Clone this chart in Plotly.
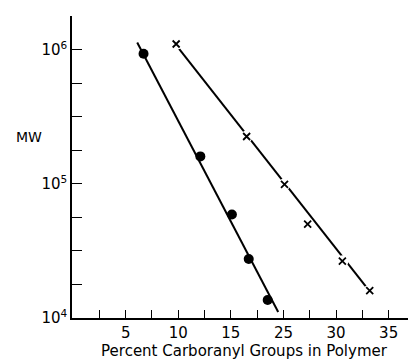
import plotly.graph_objects as go

# Data (x position on axis, MW)
circ_x = [6.7, 12.1, 15.1, 16.7, 18.5]
circ_y = [9.3e5, 1.6e5, 5.9e4, 2.75e4, 1.36e4]
circ_fit_x = [6.1, 19.5]
circ_fit_y = [1.13e6, 1.11e4]

cross_x = [9.8, 16.5, 20.1, 22.3, 25.6, 28.2]
cross_y = [1.1e6, 2.25e5, 9.9e4, 5.0e4, 2.65e4, 1.6e4]
cross_fit_x = [9.8, 28.2]
cross_fit_y = [1.08e6, 1.58e4]

x_tickvals = [2.5, 5, 7.5, 10, 12.5, 15, 17.5, 20, 22.5, 25, 27.5, 30, 32.5]
x_ticktext = ["", "5", "", "10", "", "15", "", "25", "", "30", "", "35", ""]

y_tickvals = [10 ** (k / 4) for k in range(16, 26)]
y_ticktext = ["10<sup>4</sup>", "", "", "", "10<sup>5</sup>", "", "", "", "10<sup>6</sup>", ""]

FONT = "DejaVu Sans"

fig = go.Figure()
fig.add_trace(go.Scatter(x=circ_fit_x, y=circ_fit_y, mode="lines",
                         line=dict(color="black", width=2), showlegend=False))
fig.add_trace(go.Scatter(x=circ_x, y=circ_y, mode="markers",
                         marker=dict(color="black", size=10, symbol="circle"), showlegend=False))
fig.add_trace(go.Scatter(x=cross_fit_x, y=cross_fit_y, mode="lines",
                         line=dict(color="black", width=2), showlegend=False))
fig.add_trace(go.Scatter(x=cross_x, y=cross_y, mode="markers",
                         marker=dict(color="white", size=12, symbol="circle"), showlegend=False))
fig.add_trace(go.Scatter(x=cross_x, y=cross_y, mode="markers",
                         marker=dict(color="black", size=7, symbol="x-thin",
                                     line=dict(color="black", width=1.8)), showlegend=False))

# The page body adds an 8px margin, so the figure is 8px smaller and offset.
fig.update_layout(
    width=408, height=354,
    margin=dict(l=64, r=0, t=8, b=44),
    paper_bgcolor="white", plot_bgcolor="white",
    font=dict(family=FONT, color="black", size=14),
    xaxis=dict(range=[-0.1, 32.6], showgrid=False, zeroline=False, automargin=False,
               showline=True, linecolor="black", linewidth=1.5,
               ticks="inside", ticklen=8, tickwidth=1.3, tickcolor="black",
               tickvals=x_tickvals, ticktext=x_ticktext,
               tickfont=dict(family=FONT, size=15),
               title=dict(text="Percent Carboranyl Groups in Polymer",
                          font=dict(family=FONT, size=15), standoff=4)),
    yaxis=dict(type="log", range=[4, 6.25], showgrid=False, zeroline=False, automargin=False,
               showline=True, linecolor="black", linewidth=1.5,
               ticks="inside", ticklen=10, tickwidth=1.3, tickcolor="black",
               tickvals=y_tickvals, ticktext=y_ticktext,
               tickfont=dict(family=FONT, size=15)),
    annotations=[dict(text="MW", xref="paper", yref="paper", x=-0.125, y=0.60,
                      xanchor="center", yanchor="middle", showarrow=False,
                      font=dict(family=FONT, size=14))],
)

fig.write_html("out.html")
